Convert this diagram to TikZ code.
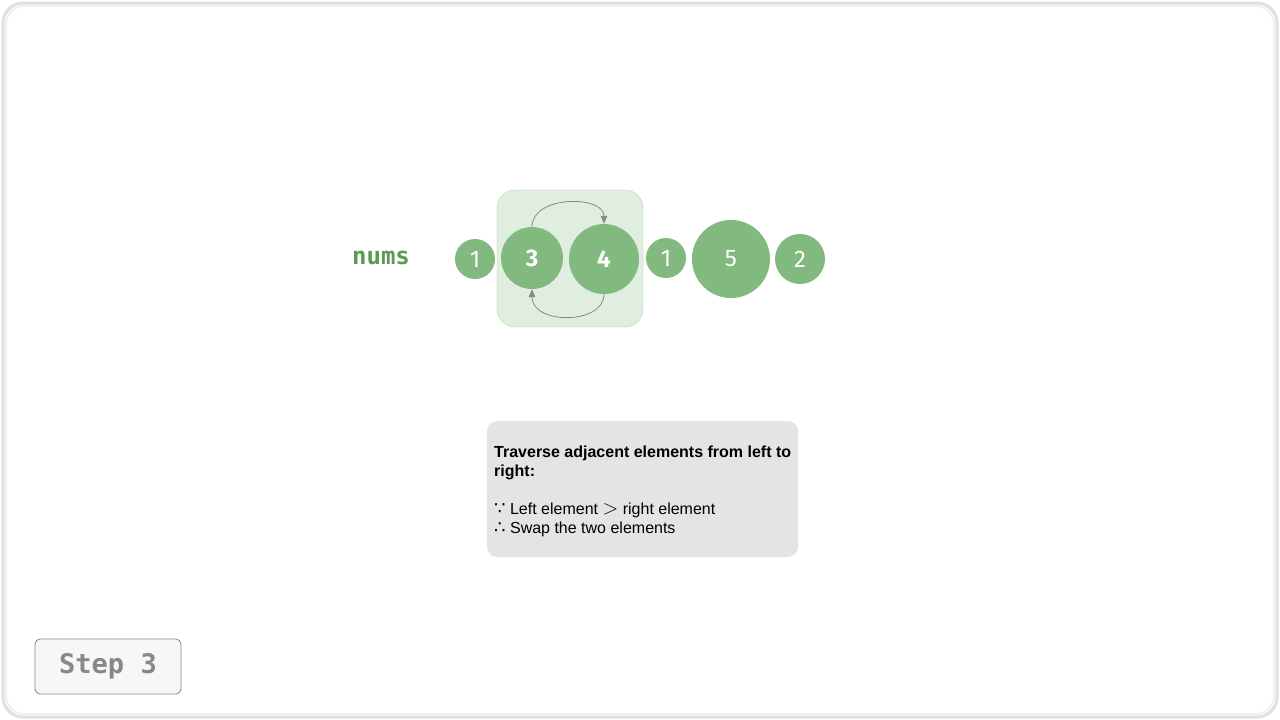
\documentclass[tikz,border=0pt]{standalone}
\usepackage{fontspec}
\setmainfont{Liberation Sans}
\setmonofont{DejaVu Sans Mono}
\newfontfamily\symfont{DejaVu Sans}
\newfontfamily\digfont{Fira Sans}
\usetikzlibrary{arrows.meta}
\definecolor{cgreen}{HTML}{82B97F}
\definecolor{hlfill}{HTML}{E0EEDF}
\definecolor{hldraw}{HTML}{B3D6B0}
\definecolor{numsgreen}{HTML}{5A9A52}
\definecolor{boxgray}{HTML}{E4E4E4}
\definecolor{arrgray}{HTML}{888888}
\tikzset{
  elem/.style={circle, fill=cgreen, draw=none, inner sep=0pt, text=white, font=\digfont\fontsize{24}{26}\selectfont},
  elembold/.style={elem, font=\digfont\bfseries\fontsize{24}{26}\selectfont},
  swaparrow/.style={draw=arrgray, line width=0.8pt, -{Triangle[length=8pt,width=6.5pt]}},
}
\begin{document}
\begin{tikzpicture}[x=1pt,y=-1pt]
\useasboundingbox (0,0) rectangle (1280,720);
\fill[white] (0,0) rectangle (1280,720);
\draw[gray!25, line width=3pt, rounded corners=20pt] (3,3) rectangle (1277,717);
\draw[gray!12, line width=2pt, rounded corners=18pt] (6,6) rectangle (1274,714);
% highlight
\node[draw=hldraw, fill=hlfill, rounded corners=18pt, minimum width=146pt, minimum height=137pt, inner sep=0pt] (hl) at (570,258.5) {};
% label
\node[font=\ttfamily\bfseries\fontsize{24}{26}\selectfont, text=numsgreen] (nums) at (381,258) {nums};
% elements
\node[elem, minimum size=40pt] (n1) at (475,259) {1};
\node[elembold, minimum size=62pt] (n3) at (532,258) {3};
\node[elembold, minimum size=70pt] (n4) at (604,259) {4};
\node[elem, minimum size=40pt] (n1b) at (666,258) {1};
\node[elem, minimum size=78pt] (n5) at (731,259) {5};
\node[elem, minimum size=50pt] (n2) at (800,259) {2};
% swap arrows
\draw[swaparrow] (n3.north) .. controls (532,195) and (604,195) .. (n4.north);
\draw[swaparrow] (n4.south) .. controls (604,325) and (532,325) .. (n3.south);
% text box
\node[fill=boxgray, rounded corners=10pt, minimum width=311pt, minimum height=136pt, inner sep=0pt] (tb) at (642.5,489) {};
\node[anchor=north west, align=left, inner sep=0pt, font=\fontsize{16}{19}\selectfont] (tt) at (494,446)
  {\textbf{Traverse adjacent elements from left to}\\\textbf{right:}\\[19pt]{\symfont\fontsize{18}{19}\selectfont ∵} Left element {\fontsize{20}{19}\selectfont$>$} right element\\{\symfont\fontsize{18}{19}\selectfont ∴} Swap the two elements};
% step box
\node[draw=arrgray, fill=gray!6, rounded corners=5pt, minimum width=146pt, minimum height=55pt, inner sep=0pt, line width=0.8pt, text=arrgray, font=\ttfamily\bfseries\fontsize{27}{29}\selectfont] (step) at (108,666.5) {Step 3};
\end{tikzpicture}
\end{document}
